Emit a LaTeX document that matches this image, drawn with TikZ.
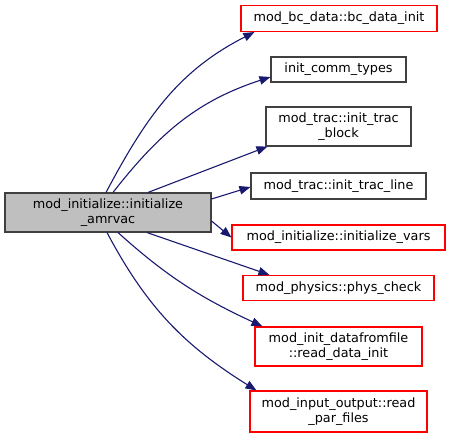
\documentclass[tikz,border=0pt]{standalone}
\usepackage{fontspec}
\setmainfont{DejaVu Sans}
\usetikzlibrary{arrows.meta}
\definecolor{edgeblue}{HTML}{191970}
\definecolor{boxgrey}{HTML}{404040}
\definecolor{mainfill}{HTML}{BFBFBF}
\definecolor{truncred}{HTML}{FF0000}
\begin{document}
\begin{tikzpicture}[x=1pt, y=1pt]
        \tikzstyle{fn}=[rectangle, line width=1.1pt, align=center, inner sep=0pt, font=\fontsize{12.8}{15.5}\selectfont];
        \tikzstyle{linked}=[fn, draw=boxgrey];
        \tikzstyle{trunc}=[fn, draw=truncred];
        \tikzstyle{call}=[draw=edgeblue, line width=1.1pt, -{Triangle[length=11pt, width=8.5pt]}];
        \useasboundingbox (0,0) rectangle (451,-438);

        \node[linked, fill=mainfill, minimum width=206, minimum height=39] (init) at (108,-212.5) {mod\_initialize::initialize\\\_amrvac};

        \node[trunc, minimum width=196, minimum height=26] (bcinit) at (339,-18.5) {mod\_bc\_data::bc\_data\_init};
        \node[linked, minimum width=135, minimum height=25] (commtypes) at (338.5,-69.5) {init\_comm\_types};
        \node[linked, minimum width=145, minimum height=39] (tracblock) at (338.5,-126.5) {mod\_trac::init\_trac\\\_block};
        \node[linked, minimum width=175, minimum height=26] (tracline) at (338.5,-186) {mod\_trac::init\_trac\_line};
        \node[trunc, minimum width=213, minimum height=25] (initvars) at (338.5,-237.5) {mod\_initialize::initialize\_vars};
        \node[trunc, minimum width=191, minimum height=25] (physcheck) at (338.5,-288) {mod\_physics::phys\_check};
        \node[trunc, minimum width=167, minimum height=39] (readdata) at (338.5,-346.5) {mod\_init\_datafromfile\\::read\_data\_init};
        \node[trunc, minimum width=177, minimum height=41] (readpar) at (338.5,-411.5) {mod\_input\_output::read\\\_par\_files};

        \draw[call] ([xshift=-2]init.north) to[out=62, in=207] ([xshift=14]bcinit.south west);
        \draw[call] ([xshift=5]init.north) to[out=52, in=198] ([yshift=-7.5]commtypes.west);
        \draw[call] ([xshift=40]init.north) -- ([xshift=2]tracblock.south west);
        \draw[call] ([yshift=13.5]init.east) -- ([yshift=-1]tracline.west);
        \draw[call] ([yshift=-8.5]init.east) -- (initvars.west);
        \draw[call] ([xshift=39]init.south) -- ([xshift=27]physcheck.north west);
        \draw[call] ([xshift=10]init.south) to[out=-42, in=155] ([xshift=8]readdata.north west);
        \draw[call] ([xshift=-1]init.south) to[out=-62, in=148] ([xshift=7]readpar.north west);
    \end{tikzpicture}
\end{document}
